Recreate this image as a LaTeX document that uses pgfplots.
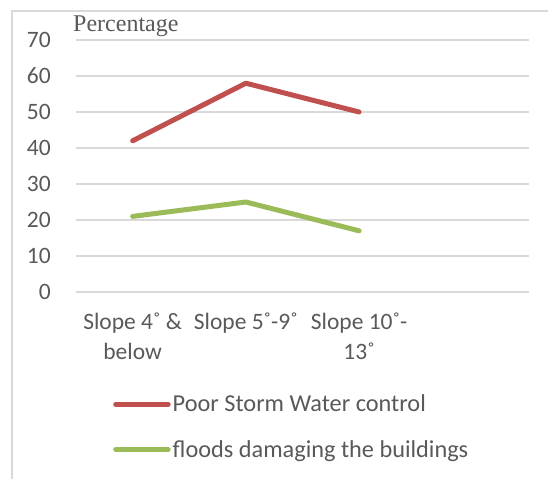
\documentclass[border=0pt]{standalone}
\usepackage{fontspec}
\setmainfont{Carlito}
\newfontfamily\serifft{Liberation Serif}
\usepackage{pgfplots}
\pgfplotsset{compat=1.18}
\definecolor{gridc}{HTML}{D9D9D9}
\definecolor{txt}{HTML}{595959}
\definecolor{redl}{HTML}{C0504D}
\definecolor{greenl}{HTML}{9BBB59}
\begin{document}
\begin{tikzpicture}
\useasboundingbox (0pt,0pt) rectangle (548pt,479pt);
\draw[gridc, line width=1.5pt] (12pt,0pt) -- (12pt,468pt) -- (548pt,468pt);
\node[anchor=base west, inner sep=0pt, text=txt, font={\serifft\fontsize{24}{28}\selectfont}] at (73pt,447pt) {Percentage};
\begin{axis}[
  at={(76pt,187pt)}, anchor=south west,
  scale only axis, width=453pt, height=252pt,
  xmin=-0.5, xmax=3.5, ymin=0, ymax=70,
  axis line style={draw=none},
  ytick={0,10,...,70},
  xtick={0,1,2},
  xticklabels={{Slope 4˚ \&\\below},{Slope 5˚-9˚},{Slope 10˚-\\13˚}},
  major tick length=0pt,
  ymajorgrids, grid style={gridc, line width=1.5pt},
  tick label style={text=txt, font=\fontsize{23.5}{30}\selectfont},
  /pgf/number format/assume math mode=true,
  yticklabel style={anchor=east, inner sep=0pt, xshift=-25pt},
  xticklabel style={align=center, anchor=north, inner sep=0pt, yshift=-21pt},
  legend style={at={(0.0817,-0.40)}, anchor=north west, draw=none, fill=none,
    font=\fontsize{24.3}{28}\selectfont, text=txt, row sep=23pt, inner sep=0pt,
    nodes={inner sep=2pt}},
  legend cell align=left,
  legend image code/.code={\draw[#1, line width=5pt, line cap=round] (2.5pt,0pt) -- (55pt,0pt);},
]
\addplot[redl, line width=5pt, line cap=round, line join=round] coordinates {(0,42) (1,58) (2,50)};
\addlegendentry{Poor Storm Water control}
\addplot[greenl, line width=5pt, line cap=round, line join=round] coordinates {(0,21) (1,25) (2,17)};
\addlegendentry{floods damaging the buildings}
\end{axis}
\end{tikzpicture}
\end{document}
